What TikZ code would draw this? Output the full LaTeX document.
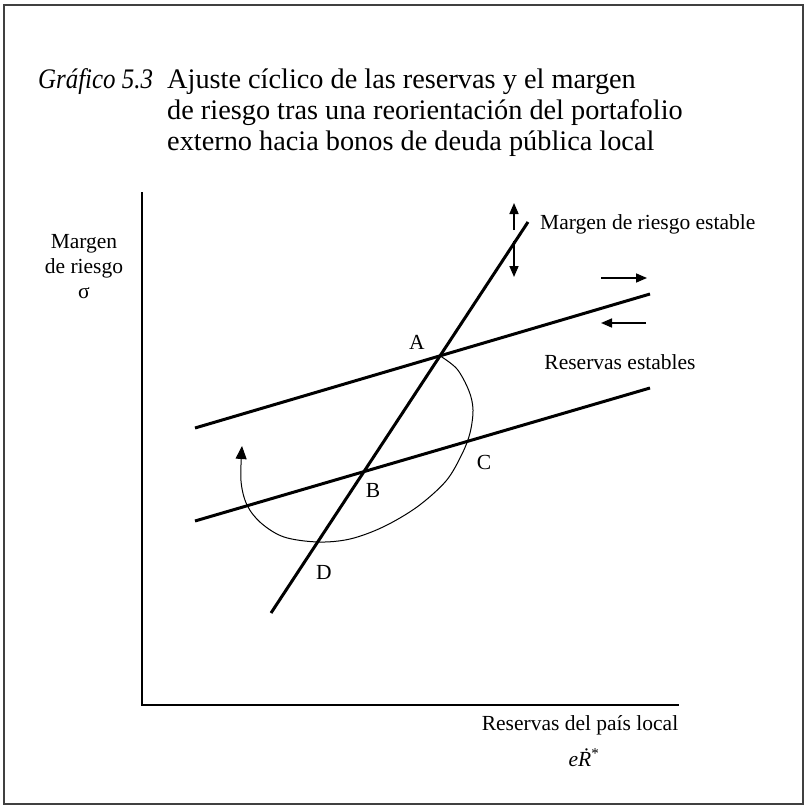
\documentclass[tikz,border=0pt]{standalone}
\usepackage{fontspec}
\setmainfont{Liberation Serif}
\usetikzlibrary{arrows.meta}
\begin{document}
\begin{tikzpicture}[x=1pt,y=-1pt,
  thickline/.style={line width=3pt},
  axisline/.style={line width=2pt},
  cyc/.style={line width=1pt, -{Triangle[length=13pt,width=11pt]}},
  shiftarrow/.style={line width=1.6pt, -{Triangle[length=11pt,width=9pt]}},
  lbl/.style={font=\fontsize{21.5}{24}\selectfont, inner sep=0pt},
  ttl/.style={font=\fontsize{28.3}{31}\selectfont, inner sep=0pt, anchor=base west}]
\useasboundingbox (0,0) rectangle (805,805);
\draw[line width=1.5pt, black!75] (4,5) rectangle (803,804);

% title
\node[ttl] (gr) at (38,89) {\scalebox{0.88}[1]{\itshape Gráfico 5.3}};
\node[ttl] (t1) at (167,89) {Ajuste cíclico de las reservas y el margen};
\node[ttl] (t2) at (167,120) {de riesgo tras una reorientación del portafolio};
\node[ttl] (t3) at (167,151) {externo hacia bonos de deuda pública local};

% axes
\coordinate (Ytop) at (142,192);
\coordinate (O) at (142,705);
\coordinate (Xend) at (679,705);
\draw[axisline] (Ytop) -- (O) -- (Xend);

\node[lbl, anchor=base] (ylab1) at (84,248) {Margen};
\node[lbl, anchor=base] (ylab2) at (84,273) {de riesgo};
\node[lbl, anchor=base] (ylab3) at (84,298) {σ};
\node[lbl, anchor=base] (xlab1) at (580,730) {Reservas del país local};
\node[lbl, anchor=base] (xlab2) at (584,766) {\textit{e\.{R}}\textsuperscript{*}};

% lines
\coordinate (M1) at (271,613);
\coordinate (M2) at (528,222);
\coordinate (U1) at (195,428);
\coordinate (U2) at (650,294);
\coordinate (L1) at (195,521);
\coordinate (L2) at (650,388);
\draw[thickline] (M1) -- (M2);
\draw[thickline] (U1) -- (U2);
\draw[thickline] (L1) -- (L2);
\coordinate (A) at (intersection of M1--M2 and U1--U2);
\coordinate (B) at (intersection of M1--M2 and L1--L2);

\node[lbl, anchor=base west] (lms) at (540,229) {Margen de riesgo estable};
\node[lbl, anchor=base] (lrs) at (620,369) {Reservas estables};

\node[lbl, anchor=base] (la) at (417,349) {A};
\node[lbl, anchor=base] (lb) at (373,497) {B};
\node[lbl, anchor=base] (lc) at (484,469) {C};
\node[lbl, anchor=base] (ld) at (324,579) {D};

% cycle
\draw[cyc] plot[smooth, tension=0.55] coordinates {(A) (457,369) (469,391) (473,410) (470,433) (462,454) (446,481) (417,507) (383,527) (350,539) (318,542) (284,537) (261,523) (247,505) (241,481) (242,446)};

% shift arrows
\coordinate (up0) at (514,230);
\coordinate (up1) at (514,203);
\coordinate (dn0) at (514,241);
\coordinate (dn1) at (514,277);
\coordinate (r0) at (601,278);
\coordinate (r1) at (647,278);
\coordinate (l0) at (646,323);
\coordinate (l1) at (601,323);
\draw[shiftarrow] (up0) -- (up1);
\draw[shiftarrow] (dn0) -- (dn1);
\draw[shiftarrow] (r0) -- (r1);
\draw[shiftarrow] (l0) -- (l1);
\end{tikzpicture}
\end{document}
